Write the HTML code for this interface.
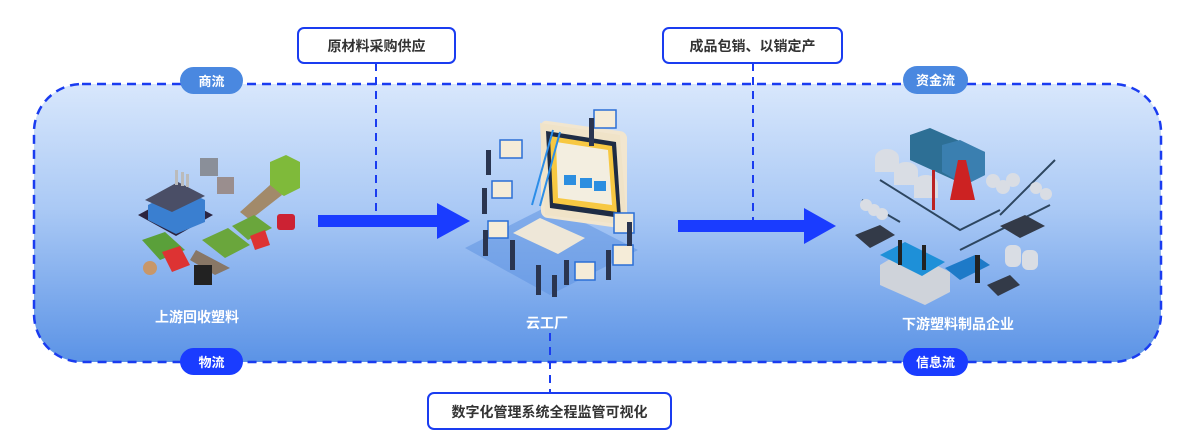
<!DOCTYPE html>
<html><head><meta charset="utf-8"><style>
html,body{margin:0;padding:0;background:#fff;width:1200px;height:443px;overflow:hidden}
svg{display:block}
text{font-family:"Liberation Sans","Noto Sans CJK SC",sans-serif;font-weight:bold}
</style></head><body>
<svg width="1200" height="443" viewBox="0 0 1200 443" xmlns="http://www.w3.org/2000/svg">
<defs>
<linearGradient id="bg" x1="0" y1="0" x2="0" y2="1">
<stop offset="0" stop-color="#d8e7fc"/>
<stop offset="0.45" stop-color="#aac9f5"/>
<stop offset="1" stop-color="#5b93e6"/>
</linearGradient>
</defs>
<rect x="34" y="84" width="1127" height="278" rx="48" fill="url(#bg)" stroke="#1a3cf0" stroke-width="2.5" stroke-dasharray="9 6"/>

<!-- vertical dashed lines -->
<line x1="376" y1="63" x2="376" y2="215" stroke="#1a3cf0" stroke-width="2" stroke-dasharray="8 6"/>
<line x1="753" y1="63" x2="753" y2="220" stroke="#1a3cf0" stroke-width="2" stroke-dasharray="8 6"/>
<line x1="550" y1="333" x2="550" y2="393" stroke="#1a3cf0" stroke-width="2" stroke-dasharray="8 6"/>

<!-- arrows -->
<rect x="318" y="215" width="122" height="12" fill="#1a3cff"/>
<polygon points="437,203 470,221 437,239" fill="#1a3cff"/>
<rect x="678" y="220" width="128" height="12" fill="#1a3cff"/>
<polygon points="804,208 836,226 804,244" fill="#1a3cff"/>

<!-- pills -->
<rect x="180" y="67" width="63" height="27" rx="13.5" fill="#4a88e0"/>
<text x="211.5" y="86" font-size="13" fill="#fff" text-anchor="middle">商流</text>
<rect x="903" y="66" width="65" height="28" rx="14" fill="#4a88e0"/>
<text x="935.5" y="85" font-size="13" fill="#fff" text-anchor="middle">资金流</text>
<rect x="180" y="348" width="63" height="27" rx="13.5" fill="#1a3cff"/>
<text x="211.5" y="367" font-size="13" fill="#fff" text-anchor="middle">物流</text>
<rect x="903" y="348" width="65" height="28" rx="14" fill="#1a3cff"/>
<text x="935.5" y="367" font-size="13" fill="#fff" text-anchor="middle">信息流</text>

<!-- top/bottom boxes -->
<rect x="298" y="28" width="157" height="35" rx="6" fill="#fff" stroke="#1a3cf0" stroke-width="2"/>
<text x="376.5" y="51" font-size="14" fill="#333" text-anchor="middle">原材料采购供应</text>
<rect x="663" y="28" width="179" height="35" rx="6" fill="#fff" stroke="#1a3cf0" stroke-width="2"/>
<text x="752.5" y="51" font-size="14" fill="#333" text-anchor="middle">成品包销、以销定产</text>
<rect x="428" y="393" width="243" height="36" rx="6" fill="#fff" stroke="#1a3cf0" stroke-width="2"/>
<text x="549.5" y="417" font-size="14" fill="#333" text-anchor="middle">数字化管理系统全程监管可视化</text>

<!-- labels -->
<text x="197" y="322" font-size="14" fill="#fff" text-anchor="middle">上游回收塑料</text>
<text x="547" y="328" font-size="14" fill="#fff" text-anchor="middle">云工厂</text>
<text x="958" y="329" font-size="14" fill="#fff" text-anchor="middle">下游塑料制品企业</text>

<!-- left illustration -->
<g>
<polygon points="138,215 175,195 213,215 176,236" fill="#2b2440"/>
<polygon points="148,205 180,188 205,200 205,222 176,234 148,220" fill="#3a7fd0"/>
<polygon points="145,200 178,182 205,196 172,212" fill="#4a4e66"/>
<rect x="175" y="170" width="3" height="15" fill="#bbb"/><rect x="181" y="172" width="3" height="14" fill="#bbb"/><rect x="186" y="174" width="3" height="13" fill="#bbb"/>
<rect x="200" y="158" width="18" height="18" fill="#8a8f99"/>
<rect x="217" y="177" width="17" height="17" fill="#9a8e8e"/>
<polygon points="270,162 286,155 300,162 300,188 284,196 270,188" fill="#7fba3a"/>
<polygon points="240,212 270,185 282,195 250,220" fill="#a28a6a"/>
<polygon points="232,226 254,215 272,228 248,240" fill="#6aa63c"/>
<polygon points="250,236 265,230 270,245 255,250" fill="#d33"/>
<polygon points="202,240 228,228 250,245 225,258" fill="#6aa63c"/>
<polygon points="196,250 230,268 215,275 190,260" fill="#887766"/>
<polygon points="142,240 165,232 185,250 160,260" fill="#5aa03a"/>
<polygon points="162,252 180,246 190,265 172,272" fill="#d33"/>
<rect x="194" y="265" width="18" height="20" fill="#222"/>
<rect x="277" y="214" width="18" height="16" rx="3" fill="#c23"/>
<circle cx="150" cy="268" r="7" fill="#c8976a"/>
</g>

<!-- center illustration -->
<g>
<polygon points="465,248 550,205 638,250 550,295" fill="#5a8fe0" opacity="0.5"/>
<rect x="541" y="124" width="86" height="97" rx="6" fill="#f2e6cf" transform="skewY(8) translate(0,-80)"/>
<polygon points="540,123 620,135 627,225 545,215" fill="#f0e3c8"/>
<polygon points="546,131 616,142 621,218 550,208" fill="#1e2c44"/>
<polygon points="550,136 612,146 617,212 553,203" fill="#f7c842"/>
<polygon points="556,142 608,150 612,205 558,198" fill="#f3eee0"/>
<rect x="564" y="175" width="12" height="10" fill="#2c8ee0"/><rect x="580" y="178" width="12" height="10" fill="#2c8ee0"/><rect x="594" y="181" width="12" height="10" fill="#2c8ee0"/>
<polygon points="513,233 540,218 585,238 558,254" fill="#eee7d8"/>
<line x1="553" y1="130" x2="532" y2="205" stroke="#2b8de8" stroke-width="2"/>
<line x1="560" y1="132" x2="540" y2="206" stroke="#2b8de8" stroke-width="2"/>
<g fill="#f5ecd8" stroke="#2b6fd6" stroke-width="1.5">
<rect x="500" y="140" width="22" height="18"/><rect x="492" y="181" width="20" height="17"/>
<rect x="488" y="221" width="20" height="17"/><rect x="575" y="262" width="20" height="18"/>
<rect x="614" y="213" width="20" height="20"/><rect x="613" y="245" width="20" height="20"/>
<rect x="594" y="110" width="22" height="18"/>
</g>
<g fill="#2a3550">
<rect x="486" y="150" width="5" height="25"/><rect x="482" y="188" width="5" height="26"/>
<rect x="483" y="230" width="5" height="26"/><rect x="510" y="240" width="5" height="30"/>
<rect x="536" y="265" width="5" height="30"/><rect x="552" y="275" width="5" height="22"/>
<rect x="564" y="260" width="5" height="25"/><rect x="606" y="250" width="5" height="30"/>
<rect x="627" y="222" width="5" height="24"/><rect x="589" y="118" width="5" height="28"/>
</g>
</g>

<!-- right illustration -->
<g>
<path d="M862 200 L900 222 M880 180 L960 230 L1000 210 M960 250 L1050 205 M1000 215 L1055 160" stroke="#2d4660" stroke-width="2" fill="none"/>
<g fill="#d9dde4">
<ellipse cx="887" cy="158" rx="12" ry="9"/><rect x="875" y="158" width="24" height="14"/>
<ellipse cx="906" cy="171" rx="12" ry="9"/><rect x="894" y="171" width="24" height="14"/>
<ellipse cx="926" cy="184" rx="12" ry="9"/><rect x="914" y="184" width="24" height="14"/>
<circle cx="866" cy="205" r="6"/><circle cx="874" cy="210" r="6"/><circle cx="882" cy="214" r="6"/>
<circle cx="993" cy="181" r="7"/><circle cx="1003" cy="187" r="7"/><circle cx="1013" cy="180" r="7"/>
<circle cx="1036" cy="188" r="6"/><circle cx="1046" cy="194" r="6"/>
<rect x="1005" y="245" width="16" height="22" rx="6"/><rect x="1022" y="250" width="16" height="20" rx="6"/>
</g>
<polygon points="910,135 930,128 985,152 985,175 965,185 910,160" fill="#2d6f95"/>
<polygon points="942,145 960,140 985,152 985,175 965,185 942,172" fill="#3a7fb0"/>
<polygon points="958,160 966,160 975,200 950,200" fill="#c22"/>
<rect x="932" y="170" width="3" height="40" fill="#b22"/>
<polygon points="880,265 905,250 950,272 950,292 925,305 880,285" fill="#cfd3da"/>
<polygon points="880,255 905,242 945,262 922,276" fill="#1e90d8"/>
<rect x="898" y="240" width="4" height="25" fill="#222"/><rect x="922" y="245" width="4" height="25" fill="#222"/>
<polygon points="855,235 880,225 895,235 870,248" fill="#333a48"/>
<polygon points="1000,226 1025,215 1045,226 1020,238" fill="#333a48"/>
<polygon points="945,268 975,255 990,265 960,280" fill="#1e7ac8"/>
<polygon points="987,285 1010,275 1020,285 998,296" fill="#333a48"/>
<rect x="975" y="255" width="5" height="28" fill="#222"/>
</g>
</svg>
</body></html>
